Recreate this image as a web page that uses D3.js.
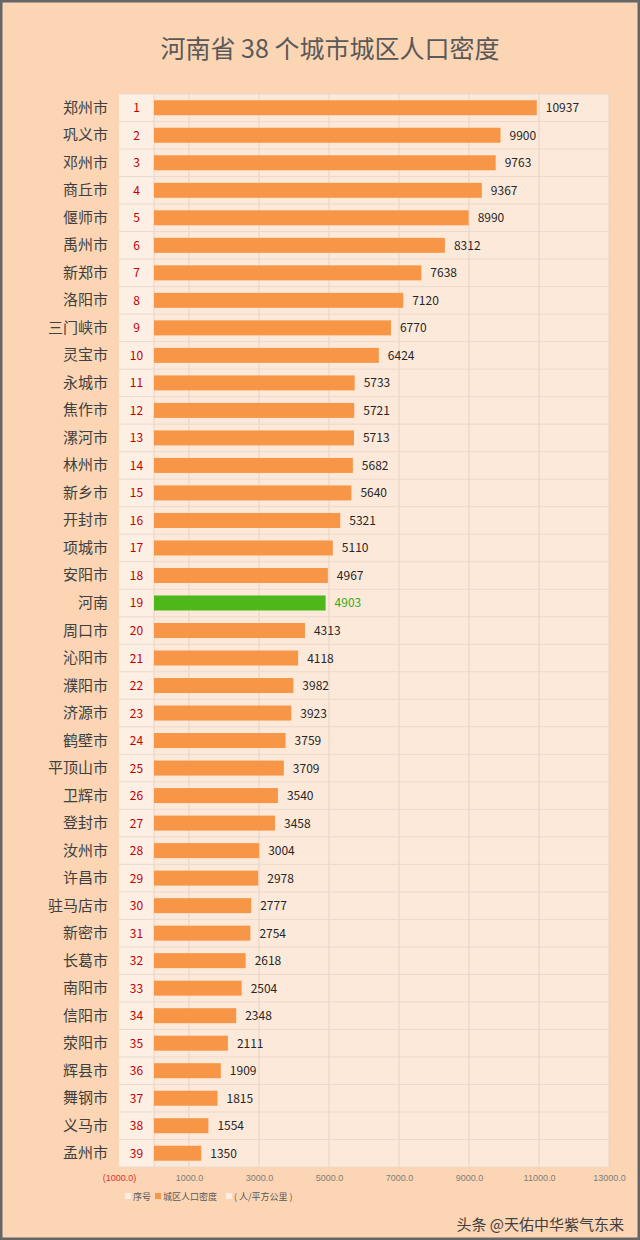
<!DOCTYPE html><html><head><meta charset="utf-8"><script src="https://d3js.org/d3.v7.min.js"></script>
<style>body{margin:0;background:#fff}svg text{font-family:"Noto Sans CJK SC","Microsoft YaHei",sans-serif}</style></head><body><div id="c"></div>
<script>
const cities=["郑州市","巩义市","邓州市","商丘市","偃师市","禹州市","新郑市","洛阳市","三门峡市","灵宝市","永城市","焦作市","漯河市","林州市","新乡市","开封市","项城市","安阳市","河南","周口市","沁阳市","濮阳市","济源市","鹤壁市","平顶山市","卫辉市","登封市","汝州市","许昌市","驻马店市","新密市","长葛市","南阳市","信阳市","荥阳市","辉县市","舞钢市","义马市","孟州市"];
const values=[10937,9900,9763,9367,8990,8312,7638,7120,6770,6424,5733,5721,5713,5682,5640,5321,5110,4967,4903,4313,4118,3982,3923,3759,3709,3540,3458,3004,2978,2777,2754,2618,2504,2348,2111,1909,1815,1554,1350];
const ticks=[-1000,1000,3000,5000,7000,9000,11000,13000];
const W=640,H=1240;
const svg=d3.select("#c").append("svg").attr("width",W).attr("height",H);
svg.append("rect").attr("x",1).attr("y",1).attr("width",W-2).attr("height",H-2).attr("fill","#fcd5b4").attr("stroke","#666").attr("stroke-width",3);
svg.append("text").attr("x",330).attr("y",58).attr("text-anchor","middle").attr("font-size",25).attr("fill","#595959").text("河南省 38 个城市城区人口密度");
const x=d3.scaleLinear().domain([-1000,13000]).range([119,609]);
const y=d3.scaleBand().domain(d3.range(cities.length)).range([94,1167]).paddingInner(0.45).paddingOuter(0.22);
const step=y.step();
svg.append("rect").attr("x",x(-1000)).attr("y",94).attr("width",x(13000)-x(-1000)).attr("height",1167-94).attr("fill","#fde9d9");
svg.append("rect").attr("x",x(-1000)).attr("y",94).attr("width",x(0)-x(-1000)).attr("height",1167-94).attr("fill","#fdefe4");
const gx=svg.append("g");
[0,...ticks.slice(1)].forEach(t=>gx.append("line").attr("x1",x(t)).attr("x2",x(t)).attr("y1",94).attr("y2",1167).attr("stroke","#e6d3c6"));
d3.range(cities.length+1).forEach(i=>gx.append("line").attr("x1",x(-1000)).attr("x2",x(13000)).attr("y1",94+i*(1073/39)).attr("y2",94+i*(1073/39)).attr("stroke","#ead9cd"));
const yr=d3.scaleBand().domain(d3.range(cities.length)).range([94,1167]);
const g=svg.append("g");
cities.forEach((c,i)=>{
 const cy=yr(i)+yr.bandwidth()/2, hn=c==="河南";
 g.append("text").attr("x",108).attr("y",cy+5).attr("text-anchor","end").attr("font-size",15).attr("fill","#404040").text(c);
 g.append("text").attr("x",x(-500)).attr("y",cy+4.5).attr("text-anchor","middle").attr("font-size",12).attr("fill","#c00000").text(i+1);
 g.append("rect").attr("x",x(0)).attr("y",cy-7.5).attr("width",x(values[i])-x(0)).attr("height",15).attr("fill",hn?"#4cb81a":"#f79646");
 g.append("text").attr("x",x(values[i])+9).attr("y",cy+4.5).attr("font-size",12).attr("fill",hn?"#2eaa1e":"#262626").text(values[i]);
});
const ax=d3.axisBottom(x).tickValues(ticks).tickFormat(d=>d<0?"("+d3.format(".1f")(-d)+")":d3.format(".1f")(d)).tickSize(0);
const a=svg.append("g").attr("transform","translate(0,1172)").call(ax);
a.select(".domain").remove();
a.selectAll("text").attr("font-size",9).attr("fill",d=>d<0?"#e03030":"#7f7f7f").style("font-family","Liberation Sans Narrow,Liberation Sans,sans-serif");
const leg=[["序号","#fdefe4",125],["城区人口密度","#f79646",155],["( 人/平方公里 )","#fdefe4",226]];
leg.forEach(l=>{svg.append("rect").attr("x",l[2]).attr("y",1193).attr("width",6).attr("height",6).attr("fill",l[1]);
 svg.append("text").attr("x",l[2]+8).attr("y",1200).attr("font-size",9).attr("fill","#595959").text(l[0]);});
svg.append("text").attr("x",624).attr("y",1230).attr("text-anchor","end").attr("font-size",15).attr("fill","#404040").text("头条 @天佑中华紫气东来");
</script></body></html>
